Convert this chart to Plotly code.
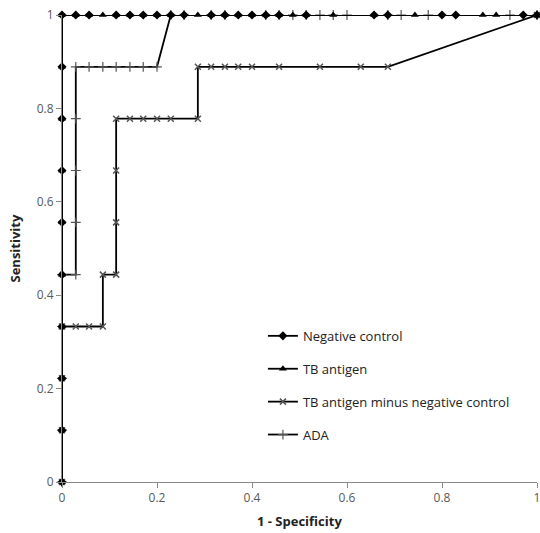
import plotly.graph_objects as go

# Sensitivity steps (9 positives) and 1-specificity steps (35 negatives)
neg_x = [0, 0, 0, 0, 0, 0, 0, 0, 0, 0,
         0.029, 0.057, 0.114, 0.143, 0.171, 0.2, 0.229, 0.257, 0.314, 0.343, 0.371,
         0.4, 0.429, 0.457, 0.514, 0.657, 0.686, 0.8, 0.829, 0.971, 1.0]
neg_y = [0, 0.111, 0.222, 0.333, 0.444, 0.556, 0.667, 0.778, 0.889, 1,
         1, 1, 1, 1, 1, 1, 1, 1, 1, 1, 1,
         1, 1, 1, 1, 1, 1, 1, 1, 1, 1]

tb_x = [0, 0, 0, 0, 0, 0, 0, 0, 0, 0,
        0.029, 0.057, 0.086, 0.114, 0.143, 0.171, 0.2, 0.229, 0.286, 0.314, 0.343,
        0.371, 0.4, 0.429, 0.457, 0.486, 0.514, 0.571, 0.657, 0.743, 0.886, 0.914, 1.0]
tb_y = [0, 0.111, 0.222, 0.333, 0.444, 0.556, 0.667, 0.778, 0.889, 1,
        1, 1, 1, 1, 1, 1, 1, 1, 1, 1, 1,
        1, 1, 1, 1, 1, 1, 1, 1, 1, 1, 1, 1]

diff_x = [0, 0, 0, 0, 0.029, 0.057, 0.086, 0.086, 0.114, 0.114, 0.114, 0.114,
          0.143, 0.171, 0.2, 0.229, 0.286, 0.286, 0.314, 0.343, 0.371, 0.4,
          0.457, 0.543, 0.629, 0.686, 1.0]
diff_y = [0, 0.111, 0.222, 0.333, 0.333, 0.333, 0.333, 0.444, 0.444, 0.556, 0.667, 0.778,
          0.778, 0.778, 0.778, 0.778, 0.778, 0.889, 0.889, 0.889, 0.889, 0.889,
          0.889, 0.889, 0.889, 0.889, 1.0]

ada_x = [0, 0, 0, 0, 0, 0.029, 0.029, 0.029, 0.029, 0.029,
         0.057, 0.086, 0.114, 0.143, 0.171, 0.2, 0.229,
         0.257, 0.314, 0.343, 0.429, 0.457, 0.486, 0.514, 0.543, 0.571, 0.6,
         0.686, 0.714, 0.771, 0.943, 1.0]
ada_y = [0, 0.111, 0.222, 0.333, 0.444, 0.444, 0.556, 0.667, 0.778, 0.889,
         0.889, 0.889, 0.889, 0.889, 0.889, 0.889, 1,
         1, 1, 1, 1, 1, 1, 1, 1, 1, 1,
         1, 1, 1, 1, 1]

tick_vals = [0, 0.2, 0.4, 0.6, 0.8, 1]
tick_text = ["0", "0.2", "0.4", "0.6", "0.8", "1"]

fig = go.Figure()
fig.add_trace(go.Scatter(x=ada_x, y=ada_y, mode="lines+markers", name="ADA",
                         legendgroup="d", legendrank=4,
                         line=dict(color="black", width=1.8),
                         marker=dict(symbol="cross-thin-open", size=7, color="#555555",
                                     line=dict(width=1.2, color="#555555")),
                         cliponaxis=False))
fig.add_trace(go.Scatter(x=diff_x, y=diff_y, mode="lines+markers",
                         name="TB antigen minus negative control", legendgroup="c",
                         legendrank=3,
                         line=dict(color="black", width=1.8),
                         marker=dict(symbol="x-thin-open", size=6, color="#555555",
                                     line=dict(width=1.5, color="#555555")),
                         cliponaxis=False))
fig.add_trace(go.Scatter(x=tb_x, y=tb_y, mode="lines+markers", name="TB antigen",
                         legendgroup="b", legendrank=2,
                         line=dict(color="black", width=1.8),
                         marker=dict(symbol="triangle-up", size=7, color="black"),
                         cliponaxis=False))
fig.add_trace(go.Scatter(x=neg_x, y=neg_y, mode="lines+markers", name="Negative control",
                         legendgroup="a", legendrank=1,
                         line=dict(color="black", width=1.8),
                         marker=dict(symbol="diamond", size=7, color="black"),
                         cliponaxis=False))

axis_common = dict(range=[0, 1], tickvals=tick_vals, ticktext=tick_text,
                   showgrid=False, zeroline=False, showline=True, automargin=False,
                   linecolor="#898989", linewidth=1, ticks="outside", ticklen=5,
                   tickcolor="#898989", ticklabeloverflow="allow",
                   tickfont=dict(family="Open Sans", size=12, color="#595959"))

fig.update_layout(
    width=540, height=533,
    margin=dict(l=62, r=3, t=15, b=51),
    paper_bgcolor="white", plot_bgcolor="white",
    xaxis=dict(**axis_common),
    yaxis=dict(**axis_common),
    legend=dict(x=0.423, y=0.345, xanchor="left", yanchor="top",
                bgcolor="rgba(0,0,0,0)", tracegroupgap=13, itemwidth=30,
                font=dict(family="Open Sans", size=13, color="#222222")),
    showlegend=True,
    annotations=[
        dict(text="<b>1 - Specificity</b>", xref="paper", yref="paper",
             x=0.5, y=-0.0835, xanchor="center", yanchor="middle", showarrow=False,
             font=dict(family="Open Sans", size=13, color="#222222")),
        dict(text="<b>Sensitivity</b>", xref="paper", yref="paper",
             x=-0.099, y=0.5, xanchor="center", yanchor="middle", showarrow=False,
             textangle=-90,
             font=dict(family="Open Sans", size=13, color="#222222")),
    ],
)

fig.write_html("out.html", config={"displayModeBar": False},
               post_script="document.body.style.margin='0';document.body.style.overflow='hidden';")
